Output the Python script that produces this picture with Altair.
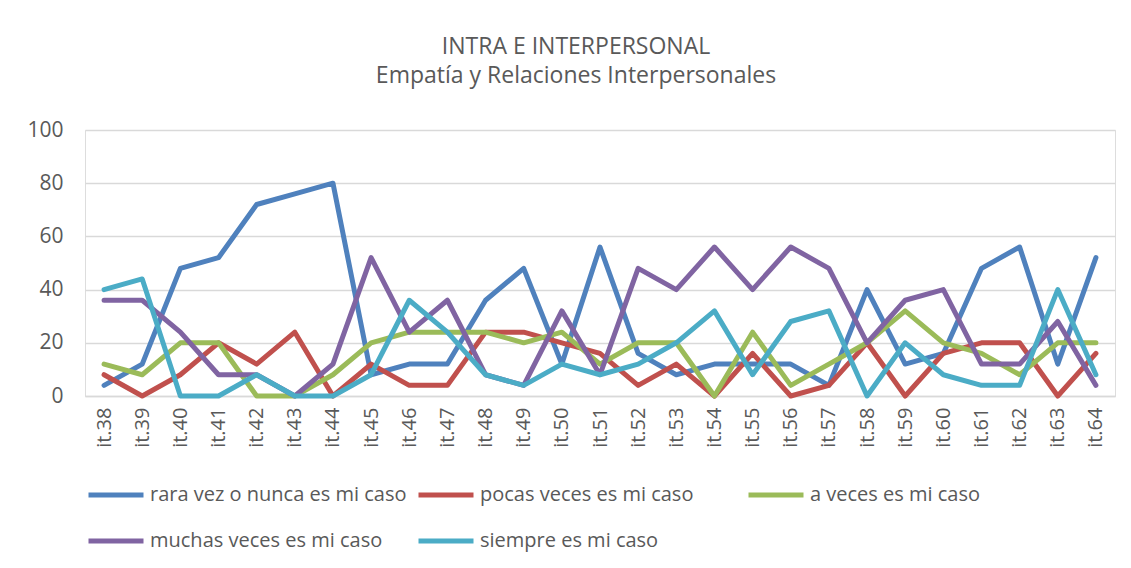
import altair as alt
import pandas as pd

items = ["it.%d" % i for i in range(38, 65)]

series_names = [
    "rara vez o nunca es mi caso",
    "pocas veces es mi caso",
    "a veces es mi caso",
    "muchas veces es mi caso",
    "siempre es mi caso",
]

rara_vez = [4, 12, 48, 52, 72, 76, 80, 8, 12, 12, 36, 48, 12, 56, 16, 8, 12, 12, 12, 4, 40, 12, 16, 48, 56, 12, 52]
pocas_veces = [8, 0, 8, 20, 12, 24, 0, 12, 4, 4, 24, 24, 20, 16, 4, 12, 0, 16, 0, 4, 20, 0, 16, 20, 20, 0, 16]
a_veces = [12, 8, 20, 20, 0, 0, 8, 20, 24, 24, 24, 20, 24, 12, 20, 20, 0, 24, 4, 12, 20, 32, 20, 16, 8, 20, 20]
muchas_veces = [36, 36, 24, 8, 8, 0, 12, 52, 24, 36, 8, 4, 32, 8, 48, 40, 56, 40, 56, 48, 20, 36, 40, 12, 12, 28, 4]
siempre = [40, 44, 0, 0, 8, 0, 0, 8, 36, 24, 8, 4, 12, 8, 12, 20, 32, 8, 28, 32, 0, 20, 8, 4, 4, 40, 8]

colors = ["#4F81BD", "#C0504D", "#9BBB59", "#8064A2", "#4BACC6"]

title_lines = ["INTRA E INTERPERSONAL", "Empatía y Relaciones Interpersonales"]
y_ticks = [0, 20, 40, 60, 80, 100]

all_series = [rara_vez, pocas_veces, a_veces, muchas_veces, siempre]
rows = []
for name, vals in zip(series_names, all_series):
    for it, v in zip(items, vals):
        rows.append({"item": it, "serie": name, "valor": v})
df = pd.DataFrame(rows)

FONT = "Open Sans"
TXT = "#595959"

chart = (
    alt.Chart(df)
    .mark_line(strokeWidth=5, strokeJoin="round", strokeCap="round")
    .encode(
        x=alt.X(
            "item:N",
            sort=items,
            scale=alt.Scale(type="point", padding=0.5),
            axis=alt.Axis(
                title=None,
                labelAngle=-90,
                ticks=False,
                tickSize=0,
                grid=False,
                domainColor="#D9D9D9",
                domainWidth=1.3,
                labelPadding=11,
                labelFontSize=20,
                labelFont=FONT,
                labelColor=TXT,
            ),
        ),
        y=alt.Y(
            "valor:Q",
            scale=alt.Scale(domain=[0, 100], nice=False),
            axis=alt.Axis(
                title=None,
                values=y_ticks,
                ticks=False,
                tickSize=0,
                domain=False,
                gridColor="#D9D9D9",
                gridWidth=1.3,
                labelPadding=22,
                labelFontSize=21,
                labelFont=FONT,
                labelColor=TXT,
                minExtent=58,
                maxExtent=58,
            ),
        ),
        color=alt.Color(
            "serie:N",
            sort=series_names,
            scale=alt.Scale(domain=series_names, range=colors),
            legend=alt.Legend(
                title=None,
                orient="none",
                legendX=1,
                legendY=335,
                direction="horizontal",
                columns=3,
                gridAlign="all",
                columnPadding=1,
                rowPadding=6,
                symbolType="stroke",
                symbolSize=3025,
                symbolStrokeWidth=5,
                labelFontSize=20,
                labelFont=FONT,
                labelColor=TXT,
                labelLimit=500,
                labelOffset=4,
            ),
        ),
    )
    .properties(
        width=1030,
        height=266,
        padding={"left": 18, "top": 28, "right": 5, "bottom": 5},
        title=alt.TitleParams(
            text=title_lines,
            font=FONT,
            fontSize=23,
            fontWeight="normal",
            color=TXT,
            anchor="middle",
            lineHeight=29,
            offset=31,
            dx=-24,
        ),
    )
    .configure_view(stroke=None)
    .configure(background="white")
)

chart.save("out.html", embed_options={"renderer": "svg", "actions": False})
